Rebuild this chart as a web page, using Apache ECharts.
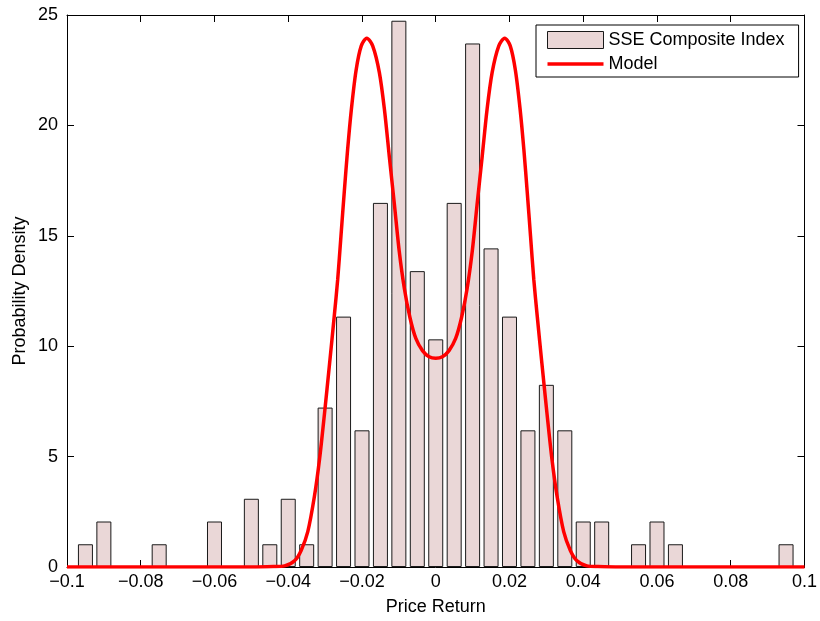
<!DOCTYPE html>
<html>
<head>
<meta charset="utf-8">
<script src="https://cdn.jsdelivr.net/npm/echarts@6/dist/echarts.min.js"></script>
<style>
html,body{margin:0;padding:0;background:#fff;}
#chart{width:820px;height:621px;}
</style>
</head>
<body>
<div id="chart"></div>
<script>
// Histogram bin centres (price return) and probability density of each bar
var binCenters = [-0.095, -0.09, -0.075, -0.06, -0.05, -0.045, -0.04, -0.035, -0.03, -0.025, -0.02, -0.015, -0.01, -0.005, 0, 0.005, 0.01, 0.015, 0.02, 0.025, 0.03, 0.035, 0.04, 0.045, 0.055, 0.06, 0.065, 0.095];
var barDensity = [1.03, 2.06, 1.03, 2.06, 3.09, 1.03, 3.09, 1.03, 7.22, 11.34, 6.19, 16.49, 24.74, 13.40, 10.31, 16.49, 23.71, 14.43, 11.34, 6.19, 8.25, 6.19, 2.06, 2.06, 1.03, 2.06, 1.03, 1.03];

// Model curve, points
var modelX = [-0.1, -0.05, -0.044, -0.041, -0.0383, -0.0365, -0.0347, -0.0329, -0.0315, -0.0302, -0.0288, -0.0275, -0.0266, -0.0257, -0.0248, -0.0239, -0.0229, -0.0216, -0.0202, -0.0187, -0.0171, -0.0153, -0.0139, -0.0126, -0.0112, -0.0099, -0.0085, -0.0070, -0.0054, -0.0036, -0.0018, 0,
              0.0018, 0.0036, 0.0054, 0.0070, 0.0085, 0.0099, 0.0112, 0.0126, 0.0139, 0.0153, 0.0171, 0.0187, 0.0202, 0.0216, 0.0229, 0.0239, 0.0248, 0.0257, 0.0266, 0.0275, 0.0288, 0.0302, 0.0315, 0.0329, 0.0347, 0.0365, 0.0383, 0.041, 0.044, 0.05, 0.1];
var modelY = [0, 0, 0.02, 0.05, 0.28, 0.75, 1.6, 3.2, 4.9, 6.9, 9.2, 11.4, 13.0, 15.0, 17.0, 18.9, 20.7, 22.5, 23.6, 23.95, 23.6, 22.4, 20.7, 18.6, 16.4, 14.3, 12.6, 11.3, 10.35, 9.8, 9.52, 9.45,
              9.52, 9.8, 10.35, 11.3, 12.6, 14.3, 16.4, 18.6, 20.7, 22.4, 23.6, 23.95, 23.6, 22.5, 20.7, 18.9, 17.0, 15.0, 13.0, 11.4, 9.2, 6.9, 4.9, 3.2, 1.6, 0.75, 0.28, 0.05, 0.02, 0, 0];

var xTicks = {min: -0.1, max: 0.1, interval: 0.02};
var yTicks = {min: 0, max: 25, interval: 5};
var seriesNames = ['SSE Composite Index', 'Model'];
var axisNames = {x: 'Price Return', y: 'Probability Density'};

var FONT = '"Liberation Sans", Arial, Helvetica, sans-serif';
function fmtX(v) {
  if (Math.abs(v) < 1e-9) return '0';
  var s = String(parseFloat(Math.abs(v).toFixed(3)));
  return (v < 0 ? '\u2212' : '') + s;
}

var chart = echarts.init(document.getElementById('chart'), null, {renderer: 'canvas'});
var axisLineStyle = {show: true, onZero: false, lineStyle: {color: '#000', width: 1}};
var tickStyle = {show: true, inside: true, length: 7, lineStyle: {color: '#000', width: 1}};

var option = {
  animation: false,
  backgroundColor: '#fff',
  grid: {left: 67, right: 14, top: 15, bottom: 51, containLabel: false},
  legend: {
    orient: 'vertical',
    left: 536, top: 25,
    padding: [6, 14, 4, 11],
    itemGap: 6,
    itemWidth: 56, itemHeight: 17,
    symbolKeepAspect: true,
    borderColor: '#000', borderWidth: 1,
    backgroundColor: '#fff',
    textStyle: {fontFamily: FONT, fontSize: 18, color: '#000'},
    data: [
      {name: seriesNames[0], icon: 'rect', itemStyle: {color: '#ead7d7', borderColor: '#1a1a1a', borderWidth: 1}},
      {name: seriesNames[1], icon: 'path://M0,0 L56,0 L56,3.5 L0,3.5 Z', itemStyle: {color: '#ff0000', borderWidth: 0}}
    ]
  },
  xAxis: [
    {
      type: 'value', position: 'bottom',
      min: xTicks.min, max: xTicks.max, interval: xTicks.interval,
      name: axisNames.x, nameLocation: 'middle', nameGap: 31,
      nameTextStyle: {fontFamily: FONT, fontSize: 18, color: '#000'},
      axisLine: axisLineStyle, axisTick: tickStyle, splitLine: {show: false},
      axisLabel: {fontFamily: FONT, fontSize: 18, color: '#000', margin: 6, formatter: fmtX}
    },
    {
      type: 'value', position: 'top',
      min: xTicks.min, max: xTicks.max, interval: xTicks.interval,
      axisLine: axisLineStyle, axisTick: tickStyle, splitLine: {show: false},
      axisLabel: {show: false}
    }
  ],
  yAxis: [
    {
      type: 'value', position: 'left',
      min: yTicks.min, max: yTicks.max, interval: yTicks.interval,
      name: axisNames.y, nameLocation: 'middle', nameGap: 38, nameMoveOverlap: false,
      nameTextStyle: {fontFamily: FONT, fontSize: 18, color: '#000'},
      axisLine: axisLineStyle, axisTick: tickStyle, splitLine: {show: false},
      axisLabel: {fontFamily: FONT, fontSize: 18, color: '#000', margin: 9}
    },
    {
      type: 'value', position: 'right',
      min: yTicks.min, max: yTicks.max, interval: yTicks.interval,
      axisLine: axisLineStyle, axisTick: tickStyle, splitLine: {show: false},
      axisLabel: {show: false}
    }
  ],
  series: [
    {
      name: seriesNames[0],
      type: 'bar',
      xAxisIndex: 0, yAxisIndex: 0,
      barWidth: 15,
      itemStyle: {color: '#ead7d7', borderColor: '#1a1a1a', borderWidth: 1},
      data: binCenters.map(function (c, i) { return [c, barDensity[i]]; }),
      z: 2
    },
    {
      name: seriesNames[1],
      type: 'line',
      xAxisIndex: 0, yAxisIndex: 0,
      smooth: 0.3,
      symbol: 'none',
      showSymbol: false,
      lineStyle: {color: '#ff0000', width: 3.5},
      itemStyle: {color: '#ff0000'},
      data: modelX.map(function (x, i) { return [x, modelY[i]]; }),
      z: 3
    }
  ]
};
chart.setOption(option);
</script>
</body>
</html>
